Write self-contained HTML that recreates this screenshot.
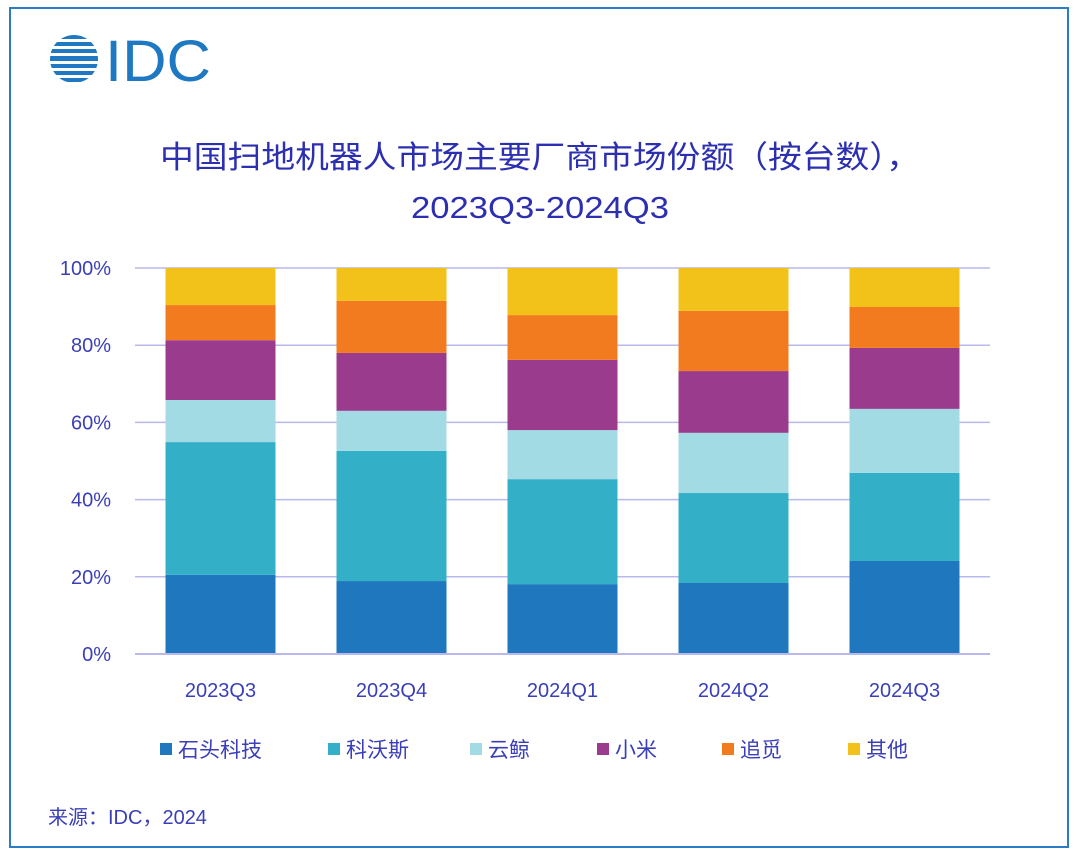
<!DOCTYPE html>
<html><head><meta charset="utf-8">
<style>
html,body{margin:0;padding:0;background:#fff;}
body{width:1080px;height:855px;overflow:hidden;font-family:"Liberation Sans","Noto Sans CJK SC",sans-serif;}
</style></head>
<body>
<svg id="chart" width="1080" height="855" xmlns="http://www.w3.org/2000/svg">
  <rect x="10" y="8" width="1058" height="839" fill="#fff" stroke="#2b7cc5" stroke-width="2"/>
  <g>
    <clipPath id="globe"><circle cx="74" cy="59" r="24"/></clipPath>
    <g clip-path="url(#globe)" fill="#1e78c2">
      <rect x="45" y="35" width="60" height="4"/>
      <rect x="45" y="42" width="60" height="4"/>
      <rect x="45" y="49" width="60" height="4"/>
      <rect x="45" y="56" width="60" height="5"/>
      <rect x="45" y="64" width="60" height="4"/>
      <rect x="45" y="71" width="60" height="4"/>
      <rect x="45" y="78" width="60" height="4"/>
    </g>
    <text x="105" y="81" font-size="58" fill="#1e78c2" font-family="Liberation Sans, sans-serif" textLength="106" lengthAdjust="spacingAndGlyphs">IDC</text>
  </g>
  <text x="160" y="168" font-size="31" fill="#2b2fb0" textLength="760" lengthAdjust="spacingAndGlyphs">中国扫地机器人市场主要厂商市场份额（按台数），</text>
  <text x="411" y="218" font-size="31" fill="#2b2fb0" textLength="258" lengthAdjust="spacingAndGlyphs">2023Q3-2024Q3</text>
  <g id="grid"></g>
  <g id="bars"></g>
  <g id="legend"></g>
  <text x="48" y="824" font-size="20" fill="#3a3fb8">来源：IDC，2024</text>
</svg>
<script>
const categories = ["2023Q3","2023Q4","2024Q1","2024Q2","2024Q3"];
const seriesNames = ["石头科技","科沃斯","云鲸","小米","追觅","其他"];
const roborock = [20.5,18.9,18.1,18.4,24.1];
const ecovacs = [34.4,33.7,27.2,23.3,22.8];
const narwal = [10.9,10.4,12.7,15.6,16.6];
const xiaomi = [15.5,15.0,18.2,16.0,15.8];
const dreame = [9.1,13.5,11.6,15.6,10.6];
const others = [9.6,8.5,12.2,11.1,10.1];
const tickValues = [0,20,40,60,80,100];
const tickLabels = ["0%","20%","40%","60%","80%","100%"];

const colors = ["#1f78be","#33afc8","#a3dbe5","#9b3b8e","#f27b20","#f2c11a"];
const series = [roborock,ecovacs,narwal,xiaomi,dreame,others];
const NS = "http://www.w3.org/2000/svg";
const x0 = 135, x1 = 990, yBase = 654, yTop = 268;
const yScale = v => yBase - (v/100)*(yBase-yTop);
const band = (x1-x0)/categories.length;
const xCenter = i => x0 + band*(i+0.5);
const barW = 110;
function mk(tag, attrs, parent){const e=document.createElementNS(NS,tag);for(const k in attrs)e.setAttribute(k,attrs[k]);parent.appendChild(e);return e;}

const grid = document.getElementById('grid');
tickValues.forEach((t,i)=>{
  const y = yScale(t);
  const l = mk('line',{x1:x0,x2:x1,y1:y,y2:y,stroke:'#b8b8ec','stroke-width':1.5},grid);
  
  
  const tx = mk('text',{x:111,y:y+7,'text-anchor':'end','font-size':20,fill:'#3a3fb8'},grid);
  tx.textContent = tickLabels[i];
  
  
});

const bars = document.getElementById('bars');
categories.forEach((c,i)=>{
  let acc = 0;
  series.forEach((s,j)=>{
    const v = s[i];
    const yT = yScale(acc+v), yB = yScale(acc);
    const r = mk('rect',{x:xCenter(i)-barW/2,y:yT,width:barW,height:yB-yT,fill:colors[j]},bars);
    
    
    acc += v;
  });
  const tx = mk('text',{x:xCenter(i),y:697,'text-anchor':'middle','font-size':20,fill:'#3a3fb8'},bars);
  tx.textContent = c;
  
  
});
const axis = mk('line',{x1:x0,x2:x1,y1:yBase,y2:yBase,stroke:'#b8b8ec','stroke-width':2},bars);



const legend = document.getElementById('legend');
const legX = [160,328,470,597,722,848];
seriesNames.forEach((n,j)=>{
  const g = mk('g',{},legend);
  
  
  mk('rect',{x:legX[j],y:743,width:12,height:12,fill:colors[j]},g);
  const t = mk('text',{x:legX[j]+18,y:757,'font-size':21,fill:'#3a3fb8'},g);
  t.textContent = n;
});
</script>
</body></html>
